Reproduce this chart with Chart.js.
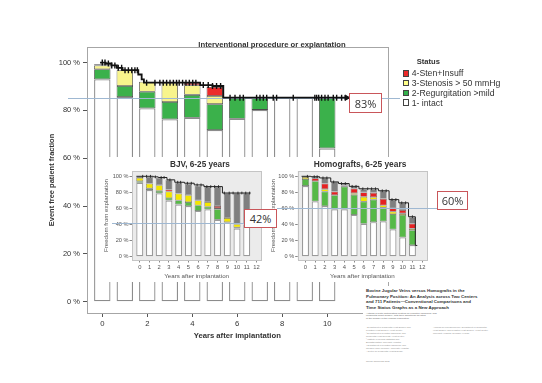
<!DOCTYPE html>
<html>
<head>
<meta charset="utf-8">
<script src="https://cdn.jsdelivr.net/npm/chart.js@4.4.1/dist/chart.umd.min.js"></script>
<style>
  body { margin: 0; background: #fff; }
  #wrap { position: relative; width: 542px; height: 383px; overflow: hidden; font-family: "Liberation Sans", Arial, sans-serif; color: #333; }
  canvas, .abs { position: absolute; }
  .inset { background: #fff; }
  .ttl { font-weight: bold; text-align: center; white-space: nowrap; }
  .box { border: 1px solid #c9565a; background: #fff; box-sizing: border-box; font-family: "Open Sans", sans-serif; font-size: 11px; color: #333; display: flex; align-items: center; justify-content: center; }
  .sq { width: 6.5px; height: 6.5px; border: 0.8px solid #444; box-sizing: border-box; }
  .lg { font-size: 8.7px; line-height: 10px; white-space: nowrap; }
  #paper { left: 363px; top: 286px; width: 179px; height: 97px; background: #fff; }
  #paper div { position: absolute; white-space: nowrap; }
</style>
</head>
<body>
<div id="wrap">
  <canvas id="main" width="542" height="383" style="left:0;top:0"></canvas>
  <canvas id="bjv" class="inset" width="170" height="125" style="left:97px;top:157px"></canvas>
  <canvas id="hg" class="inset" width="185" height="125" style="left:267px;top:157px"></canvas>

  <div class="abs ttl" style="left:172px;top:39.5px;width:200px;font-size:7.7px;line-height:9px">Interventional procedure or explantation</div>
  <div class="abs ttl" style="left:140px;top:160px;width:120px;font-size:8.2px;line-height:10px">BJV, 6-25 years</div>
  <div class="abs ttl" style="left:300px;top:159px;width:120px;font-size:8.4px;line-height:10px">Homografts, 6-25 years</div>

  <div class="abs box" style="left:349px;top:93px;width:33px;height:20px">83%</div>
  <div class="abs box" style="left:244px;top:209px;width:33px;height:19px">42%</div>
  <div class="abs box" style="left:437px;top:191px;width:31px;height:19px">60%</div>

  <div class="abs" style="left:416.7px;top:56.5px;font-size:7.6px;line-height:9px;font-weight:bold">Status</div>
  <div class="abs sq" style="left:402.7px;top:70px;background:#ec2a2a"></div>
  <div class="abs lg" style="left:411.7px;top:68.3px">4-Sten+Insuff</div>
  <div class="abs sq" style="left:402.7px;top:79.8px;background:#ffff88"></div>
  <div class="abs lg" style="left:411.7px;top:78.1px">3-Stenosis &gt; 50 mmHg</div>
  <div class="abs sq" style="left:402.7px;top:89.6px;background:#33b04a"></div>
  <div class="abs lg" style="left:411.7px;top:87.9px">2-Regurgitation &gt;mild</div>
  <div class="abs sq" style="left:402.7px;top:99.4px;background:#fff"></div>
  <div class="abs lg" style="left:411.7px;top:97.7px">1- intact</div>

  <div id="paper" class="abs">
    <div style="left:3px;top:2.3px;font-size:4.4px;line-height:5.4px;font-weight:bold;color:#333">Bovine Jugular Veins versus Homografts in the<br>Pulmonary Position: An Analysis across Two Centers<br>and 711 Patients—Conventional Comparisons and<br>Time Status Graphs as a New Approach</div>
    <div style="left:3px;top:26.5px;font-size:2.5px;line-height:2.7px;color:#666">Authors of both participating centers for pediatric cardiology and<br>congenital heart surgery, with their affiliations as listed<br>in the header of the original publication</div>
    <div style="left:3px;top:40px;font-size:2.2px;line-height:3px;color:#888">¹ Department of Congenital Heart Surgery and<br>Pediatric Heart Surgery, Heart Center<br>² Department of Pediatric Cardiology and<br>Congenital Heart Defects, Heart Center<br>³ Institute of Medical Statistics and<br>Biomathematics, University Hospital<br>⁴ Department of Pediatric Cardiology and<br>Intensive Care Medicine, University Hospital<br>⁵ Center for Congenital Heart Disease</div>
    <div style="left:70px;top:40px;font-size:2.2px;line-height:3px;color:#888">Address for correspondence: Department of Congenital<br>Heart Surgery and Pediatric Heart Surgery, Heart Center,<br>University Hospital, Germany (e-mail)</div>
    <div style="left:3px;top:74px;font-size:2.2px;line-height:3px;color:#888">Thorac Cardiovasc Surg</div>
  </div>
</div>

<script>
// main chart: time status graph, all patients
const years = [0, 1, 2, 3, 4, 5, 6, 7, 8, 9, 10];
const intact = [93, 85.6, 80.9, 76.3, 76.9, 71.8, 76.5, 80.2, 85.3, 85.3, 64.1];
const regurgitation = [4.2, 4.6, 6.9, 7.2, 9.6, 10.8, 8.8, 5.1, 0, 0, 21.2];
const stenosis = [1.6, 6.6, 4.2, 8.1, 4.0, 3.4, 0, 0, 0, 0, 0];
const stenInsuff = [0.5, 0, 0, 0, 1.1, 3.8, 0, 0, 0, 0, 0];

const kmYears = [-0.1, 0.15, 0.4, 0.65, 0.9, 1.6, 1.75, 1.85, 4.35, 4.9, 5.38, 10.86];
const kmValues = [100, 99.6, 98.8, 97.8, 96.8, 95, 93, 91.6, 90.6, 90.2, 85.3, 85.3];
const censorYears = [0, 0.12, 0.27, 0.42, 0.56, 0.71, 0.86, 1.01, 1.16, 1.31, 1.45, 1.56, 1.97, 2.34, 2.56, 2.71,
  2.86, 3.01, 3.16, 3.3, 3.42, 3.57, 3.72, 3.87, 4.02, 4.16, 4.49, 4.71, 4.9, 5.08, 5.26, 5.68, 5.9, 6.12, 6.27,
  6.86, 7.01, 7.16, 7.31, 7.6, 7.75, 8.49, 9.45, 9.53, 9.62, 9.75, 9.9, 10.04, 10.27, 10.42, 10.64];
const mainRef = 85.3;

const xTicks = [0, 2, 4, 6, 8, 10];
const yTicks = [0, 20, 40, 60, 80, 100];

// inset: BJV
const insetYears = [0, 1, 2, 3, 4, 5, 6, 7, 8, 9, 10, 11];
const bjvIntact = [92, 83, 79, 70, 65, 63, 57, 59, 46, 43, 35, 40];
const bjvRegurg = [2, 2, 3, 3, 5, 5, 7, 3, 13, 0, 1.5, 0];
const bjvStenosis = [4, 6, 7, 8, 8.5, 8.5, 6, 6, 1.5, 5, 4, 0];
const bjvStenInsuff = [0, 0, 0, 2.5, 0, 0, 0, 0, 2.5, 0, 0, 0];
const bjvExplant = [1.5, 8, 9, 12, 13.5, 14, 18, 19, 24, 31, 38.5, 39];
const bjvKmYears = [-0.35, 1.4, 1.9, 2.8, 3.6, 4.6, 5.6, 6.6, 8.5, 11.4];
const bjvKmValues = [100, 99.3, 98.5, 95.6, 92.6, 91.4, 89.3, 87.2, 79.2, 79.2];
const bjvCensor = [0.3, 0.7, 1.1, 1.6, 2.2, 2.5, 3.1, 3.9, 4.2, 4.9, 5.3, 5.9, 6.3, 6.9, 7.3, 7.7, 8.1, 8.7, 9.2, 9.6, 10.1, 10.5, 10.9, 11.3];
const bjvRef = 42;

// inset: homografts
const hgIntact = [88, 69, 63, 59, 59, 52, 41, 43, 44, 34, 24, 14.5];
const hgRegurg = [8.5, 25, 18, 17.5, 28, 25, 27.5, 28, 17, 19, 28, 18.5];
const hgStenosis = [2.5, 0, 3, 0, 0, 2, 6, 3, 3, 3, 2, 2];
const hgStenInsuff = [0.5, 3.5, 7, 4.5, 1.5, 5.5, 5.5, 5.5, 8, 4, 4, 6];
const hgExplant = [0.5, 1.5, 7, 12, 2.5, 3, 4, 4.5, 10, 11, 9, 8];
const hgKmYears = [-0.4, 0.55, 1.45, 2.6, 3.4, 4.5, 5.5, 7.5, 8.6, 9.6, 10.6, 11.3, 11.5];
const hgKmValues = [100, 99.5, 98, 93, 91, 87.5, 84.5, 82, 71, 67, 49.7, 14, 14];
const hgCensor = [0.2, 0.9, 1.2, 1.8, 2.2, 2.9, 3.7, 4.1, 4.8, 5.2, 5.9, 6.4, 6.8, 7.2, 7.9, 8.3, 8.9, 9.3, 9.9, 10.3, 11.0];
const hgRef = 60;

const insetXTicks = [0, 1, 2, 3, 4, 5, 6, 7, 8, 9, 10, 11, 12];
const insetYTicks = [0, 20, 40, 60, 80, 100];

Chart.defaults.font.family = '"Liberation Sans", Arial, sans-serif';
Chart.defaults.color = '#333';
Chart.defaults.animation = false;
Chart.defaults.plugins.legend.display = false;
Chart.defaults.plugins.tooltip.enabled = false;

function pts(xs, ys) {
  return xs.map((x, i) => ({ x: x, y: ys[i] ? ys[i] : null }));
}

// value of the step curve at time t
function stepValue(t, xs, ys) {
  let v = ys[0];
  for (let i = 0; i < xs.length; i++) {
    if (xs[i] <= t) v = ys[i];
  }
  return v;
}

function censorPts(cx, xs, ys) {
  return cx.map(t => ({ x: t, y: stepValue(t, xs, ys) }));
}

function barSet(label, xs, ys, fill, stroke, width, thick) {
  return {
    type: 'bar', label: label, data: pts(xs, ys),
    backgroundColor: fill, borderColor: stroke, borderWidth: width, borderSkipped: false,
    stack: 'status', order: 3, categoryPercentage: 1, barPercentage: thick
  };
}

function hLine(ctx, x1, x2, y) {
  ctx.save();
  ctx.strokeStyle = '#9fb8d2';
  ctx.lineWidth = 1;
  ctx.beginPath();
  ctx.moveTo(x1, Math.round(y) + 0.5);
  ctx.lineTo(x2, Math.round(y) + 0.5);
  ctx.stroke();
  ctx.restore();
}

const mainDecor = {
  id: 'mainDecor',
  beforeDatasetsDraw(chart) {
    const { ctx, chartArea: a } = chart;
    ctx.save();
    ctx.strokeStyle = '#a6a6a6';
    ctx.lineWidth = 1;
    ctx.strokeRect(Math.round(a.left) + 0.5, Math.round(a.top) + 0.5, Math.round(a.width), Math.round(a.height));
    ctx.restore();
  },
  beforeDatasetDraw(chart, args) {
    if (args.index === 4) hLine(chart.ctx, 68, 400, chart.scales.y.getPixelForValue(mainRef));
  }
};

const lastKm = kmYears.length - 1;

new Chart(document.getElementById('main'), {
  type: 'bar',
  data: {
    datasets: [
      barSet('1- intact', years, intact, '#ffffff', '#8c8c8c', 1.3, 0.73),
      barSet('2-Regurgitation >mild', years, regurgitation, '#3bb14b', '#4a4a4a', 0.8, 0.73),
      barSet('3-Stenosis > 50 mmHg', years, stenosis, '#f8f48c', '#4a4a4a', 0.8, 0.73),
      barSet('4-Sten+Insuff', years, stenInsuff, '#ec2a2a', '#4a4a4a', 0.8, 0.73),
      {
        type: 'line', label: 'Event free', data: pts(kmYears, kmValues), stepped: true,
        borderColor: '#111', borderWidth: 1.8, pointRadius: 0, fill: false, stack: 'km', order: 2
      },
      {
        type: 'line', label: 'Censored', data: censorPts(censorYears, kmYears, kmValues), showLine: false,
        pointStyle: 'line', pointRotation: 90, pointRadius: 3, pointBorderWidth: 1.4,
        pointBorderColor: '#111', stack: 'cens', order: 1
      },
      {
        type: 'line', label: 'End', data: [{ x: kmYears[lastKm], y: kmValues[lastKm] }], showLine: false,
        pointStyle: 'triangle', pointRotation: 90, pointRadius: 3.2, pointBorderWidth: 1,
        pointBackgroundColor: '#111', pointBorderColor: '#111', stack: 'end', order: 0
      }
    ]
  },
  options: {
    responsive: false,
    devicePixelRatio: 1,
    layout: { padding: { left: 47, right: 154.5, top: 47, bottom: 42 } },
    scales: {
      x: {
        type: 'linear', min: -0.68, max: 12.68, offset: false,
        afterBuildTicks: s => { s.ticks = xTicks.map(v => ({ value: v })); },
        afterFit: s => { s.height = 28; },
        ticks: { autoSkip: false, maxRotation: 0, padding: 2, font: { size: 7.7 }, color: '#333' },
        grid: { offset: false, drawOnChartArea: false, drawTicks: true, tickLength: 4, color: '#555' },
        border: { color: '#666', width: 1 },
        title: { display: true, text: 'Years after implantation', padding: 0, color: '#333', font: { size: 7.7, weight: 'bold' } }
      },
      y: {
        stacked: true, min: -4.7, max: 106.5,
        afterBuildTicks: s => { s.ticks = yTicks.map(v => ({ value: v })); },
        afterFit: s => { s.width = 40; },
        ticks: { padding: 3, font: { size: 7.5 }, color: '#333', callback: v => v + ' %' },
        grid: { drawOnChartArea: false, drawTicks: true, tickLength: 4, color: '#555' },
        border: { color: '#666', width: 1 },
        title: { display: true, text: 'Event free patient fraction', padding: 0, color: '#333', font: { size: 7.5, weight: 'bold' } }
      }
    }
  },
  plugins: [mainDecor]
});

function makeInset(id, sets, kmX, kmY, cens, ref, refFrom, refTo, pad, yWidth) {
  const decor = {
    id: id + 'Decor',
    beforeDatasetsDraw(chart) {
      const { ctx, chartArea: a } = chart;
      ctx.save();
      ctx.fillStyle = '#ebebeb';
      ctx.fillRect(a.left, a.top, a.width, a.height);
      ctx.strokeStyle = '#c4c4c4';
      ctx.lineWidth = 1;
      ctx.strokeRect(Math.round(a.left) + 0.5, Math.round(a.top) + 0.5, Math.round(a.width), Math.round(a.height));
      ctx.restore();
    },
    afterDatasetsDraw(chart) {
      hLine(chart.ctx, refFrom, refTo, chart.scales.y.getPixelForValue(ref));
    }
  };
  const colors = [
    ['#ffffff', '#9a9a9a', 1.2],
    ['#56b947', '#6a6a6a', 0.6],
    ['#f3e600', '#6a6a6a', 0.6],
    ['#e52222', '#6a6a6a', 0.6],
    ['#7f7f7f', '#8a8a8a', 0.6]
  ];
  const labels = ['1- intact', '2-Regurgitation >mild', '3-Stenosis > 50 mmHg', '4-Sten+Insuff', 'Explanted'];
  const datasets = sets.map((s, i) => barSet(labels[i], insetYears, s, colors[i][0], colors[i][1], colors[i][2], 0.72));
  datasets.push({
    type: 'line', label: 'Freedom', data: pts(kmX, kmY), stepped: true,
    borderColor: '#222', borderWidth: 1, pointRadius: 0, fill: false, stack: 'km', order: 2
  });
  datasets.push({
    type: 'line', label: 'Censored', data: censorPts(cens, kmX, kmY), showLine: false,
    pointStyle: 'line', pointRotation: 90, pointRadius: 1.4, pointBorderWidth: 0.9,
    pointBorderColor: '#222', stack: 'cens', order: 1
  });
  new Chart(document.getElementById(id), {
    type: 'bar',
    data: { datasets: datasets },
    options: {
      responsive: false,
      devicePixelRatio: 1,
      layout: { padding: pad },
      scales: {
        x: {
          type: 'linear', min: -0.8, max: 12.5, offset: false,
          afterBuildTicks: s => { s.ticks = insetXTicks.map(v => ({ value: v })); },
          afterFit: s => { s.height = 20; },
          ticks: { autoSkip: false, maxRotation: 0, padding: 1, font: { size: 5.8 }, color: '#555' },
          grid: { offset: false, drawOnChartArea: false, drawTicks: true, tickLength: 2.5, color: '#888' },
          border: { display: false },
          title: { display: true, text: 'Years after implantation', padding: 0, color: '#555', font: { size: 6.2 } }
        },
        y: {
          stacked: true, min: -4.1, max: 106.6,
          afterBuildTicks: s => { s.ticks = insetYTicks.map(v => ({ value: v })); },
          afterFit: s => { s.width = yWidth; },
          ticks: { padding: 1, font: { size: 5.6 }, color: '#555', callback: v => v + ' %' },
          grid: { drawOnChartArea: false, drawTicks: true, tickLength: 2.5, color: '#888' },
          border: { display: false },
          title: { display: true, text: 'Freedom from explantation', padding: 0, color: '#555', font: { size: 6.1 } }
        }
      }
    },
    plugins: [decor]
  });
}

makeInset('bjv', [bjvIntact, bjvRegurg, bjvStenosis, bjvStenInsuff, bjvExplant],
  bjvKmYears, bjvKmValues, bjvCensor, bjvRef, 15, 147,
  { left: 6, right: 5.7, top: 14, bottom: 2 }, 29);

makeInset('hg', [hgIntact, hgRegurg, hgStenosis, hgStenInsuff, hgExplant],
  hgKmYears, hgKmValues, hgCensor, hgRef, 10, 180,
  { left: 2.5, right: 25, top: 14, bottom: 2 }, 28.2);
</script>
</body>
</html>
